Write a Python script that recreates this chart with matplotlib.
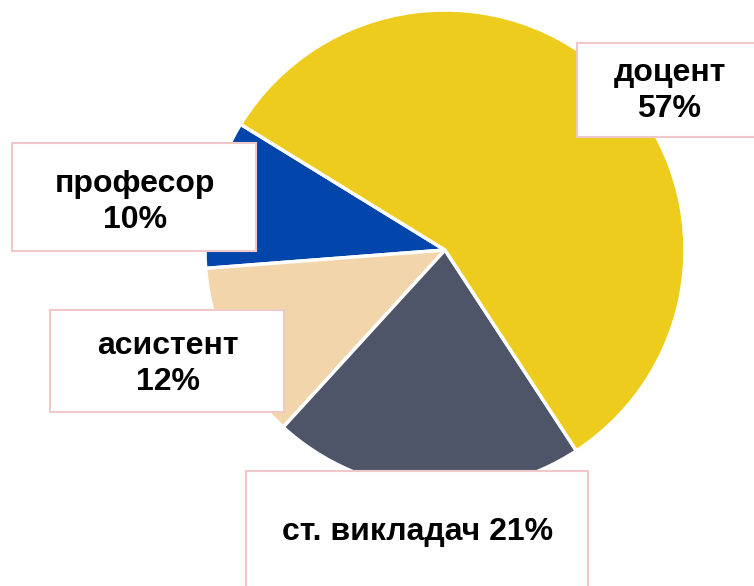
import matplotlib.pyplot as plt
from matplotlib.patches import Rectangle

labels = ['професор', 'асистент', 'ст. викладач', 'доцент']
shares = [10, 12, 21, 57]
colors = ['#0346AB', '#F2D5AA', '#4E5568', '#EECC1D']
# label text as shown on the chart
texts = ['професор\n10%', 'асистент\n12%', 'ст. викладач 21%', 'доцент\n57%']
# boxes: left, top, right, bottom in pixels (from top-left), plus text centre y
boxes = [(12, 143, 256, 251), (50, 310, 284, 412), (246, 471, 588, 600), (577, 43, 760, 137)]
text_y = [202, 364, 532, 91]

W, H = 754, 586
fig = plt.figure(figsize=(W / 100, H / 100), dpi=100)
ax = fig.add_axes([0, 0, 1, 1])

ax.pie(shares, colors=colors, startangle=148.4, radius=240, center=(445, H - 250),
       wedgeprops=dict(edgecolor='white', linewidth=2.5), frame=True)
ax.set_xlim(0, W)
ax.set_ylim(0, H)
ax.set_aspect('equal')
ax.axis('off')

for t, (l, tp, r, b), cy in zip(texts, boxes, text_y):
    ax.add_patch(Rectangle((l, H - b), r - l, b - tp, facecolor='white',
                           edgecolor='#EFC9C9', linewidth=1.5, zorder=3))
    ax.text((l + r) / 2 + 1, H - cy, t,
            ha='center', va='center', fontsize=23, fontweight='bold',
            family=['Liberation Sans', 'DejaVu Sans'], linespacing=1.3, zorder=4)

fig.savefig('out.png', dpi=100)
